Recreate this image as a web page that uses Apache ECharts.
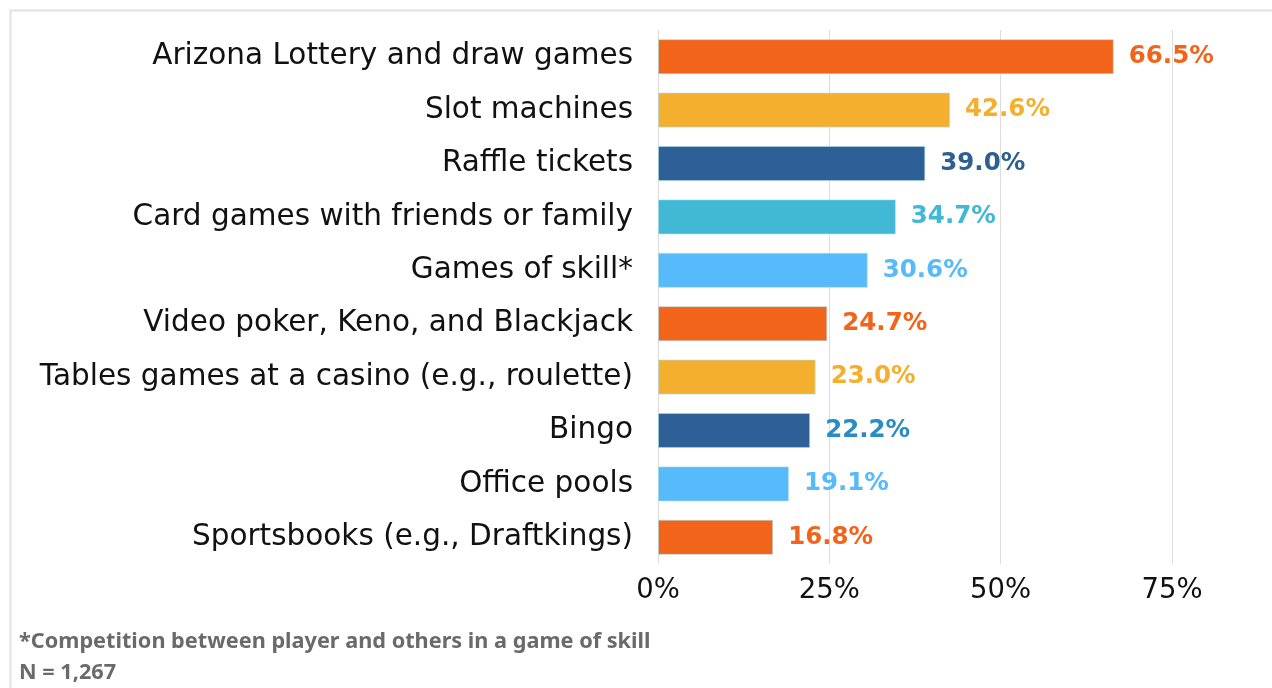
<!DOCTYPE html>
<html>
<head>
<meta charset="utf-8">
<script src="https://cdn.jsdelivr.net/npm/echarts@6/dist/echarts.min.js"></script>
<style>
  html, body { margin: 0; padding: 0; background: #ffffff; }
  #chart { width: 1272px; height: 688px; }
</style>
</head>
<body>
<div id="chart"></div>
<script>
// Gambling activities, share of respondents (%)
const categories = [
  'Arizona Lottery and draw games',
  'Slot machines',
  'Raffle tickets',
  'Card games with friends or family',
  'Games of skill*',
  'Video poker, Keno, and Blackjack',
  'Tables games at a casino (e.g., roulette)',
  'Bingo',
  'Office pools',
  'Sportsbooks (e.g., Draftkings)'
];
const values = [66.5, 42.6, 39.0, 34.7, 30.6, 24.7, 23.0, 22.2, 19.1, 16.8];
const barColors = ['#F26419', '#F5AF2E', '#2F5F97', '#41B8D5', '#56BAFB',
                   '#F26419', '#F5AF2E', '#2F5F97', '#56BAFB', '#F26419'];
const labelColors = ['#F26419', '#F5AF2E', '#2F5F8F', '#41B8D5', '#56BAFB',
                     '#F26419', '#F5AF2E', '#2B8CC4', '#56BAFB', '#F26419'];
const xTicks = [0, 25, 50, 75];
const footnotes = ['*Competition between player and others in a game of skill', 'N = 1,267'];

const WIDE = '"DejaVu Sans", "Noto Sans", sans-serif';
const NARROW = '"Noto Sans", "Open Sans", sans-serif';
const chart = echarts.init(document.getElementById('chart'), null, { renderer: 'canvas' });

chart.setOption({
  animation: false,
  grid: { left: 658, right: 100, top: 30, bottom: 124, containLabel: false },
  xAxis: {
    type: 'value',
    min: xTicks[0],
    max: xTicks[xTicks.length - 1],
    interval: 25,
    axisLine: { show: false },
    axisTick: { show: false },
    splitLine: { show: true, lineStyle: { color: '#DCDCDC', width: 1 } },
    axisLabel: {
      formatter: v => v + '%',
      color: '#111111',
      fontFamily: WIDE,
      fontSize: 27.5,
      margin: 13
    }
  },
  yAxis: {
    type: 'category',
    inverse: true,
    data: categories,
    axisLine: { show: false },
    axisTick: { show: false },
    axisLabel: {
      color: '#111111',
      fontFamily: WIDE,
      fontSize: 29.5,
      margin: 25,
      padding: [6, 0, 0, 0]
    }
  },
  series: [{
    type: 'bar',
    barWidth: 35,
    data: values.map((v, i) => ({
      value: v,
      itemStyle: { color: barColors[i], borderColor: 'rgba(170,220,230,0.6)', borderWidth: 1 },
      label: { color: labelColors[i] }
    })),
    label: {
      show: true,
      position: 'right',
      distance: 15,
      formatter: p => p.value.toFixed(1) + '%',
      fontFamily: WIDE,
      fontWeight: 'bold',
      fontSize: 24.5,
      padding: [4, 0, 0, 0]
    }
  }],
  graphic: [
    {
      type: 'polyline',
      shape: { points: [[10.5, 700], [10.5, 10.5], [1272, 10.5]] },
      style: { stroke: '#E2E2EA', lineWidth: 2, fill: null },
      silent: true
    },
    {
      type: 'text', left: 19, top: 631,
      style: { text: footnotes[0], fill: '#6A6A6A', font: 'bold 21.7px ' + NARROW }
    },
    {
      type: 'text', left: 19, top: 662,
      style: { text: footnotes[1], fill: '#6A6A6A', font: 'bold 21.7px ' + NARROW }
    }
  ]
});
</script>
</body>
</html>
